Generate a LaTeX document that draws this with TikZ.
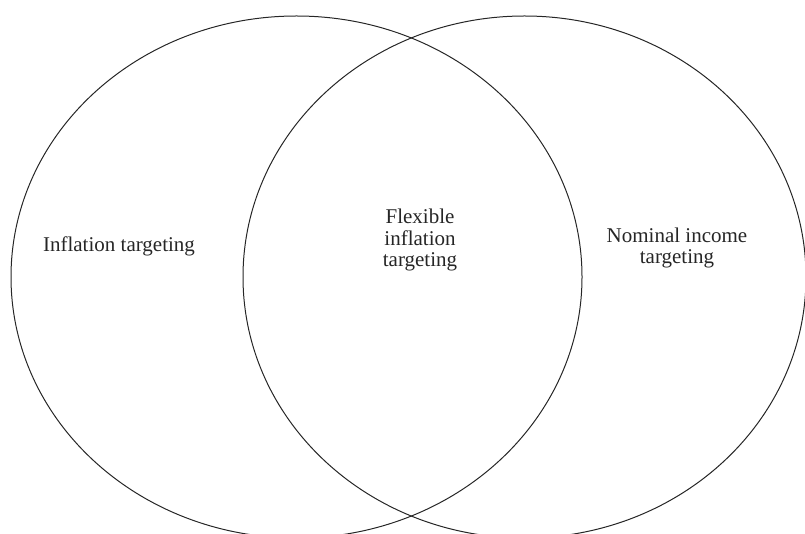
\documentclass[tikz,border=0pt]{standalone}
\usepackage{fontspec}
\setmainfont{Liberation Serif}
\usetikzlibrary{shapes.geometric}
\begin{document}
\begin{tikzpicture}[x=1pt, y=-1pt, line width=1pt,
  set node/.style={ellipse,draw=black!85,inner sep=0pt},
  label node/.style={align=center,font=\fontsize{21}{21.5}\selectfont,text=black!85}]
\useasboundingbox (0,0) rectangle (805,534);
\clip (0,0) rectangle (805,534);
\begin{scope}
\node[set node,minimum width=571pt,minimum height=522pt] (it) at (296.5,277) {};
\node[set node,minimum width=563pt,minimum height=522pt] (ni) at (524.5,277) {};
%\node[set node] () at (,) {};
\end{scope}
\begin{scope}
\node[label node] (itlabel) at (119,246) {Inflation targeting};
\node[label node] (fitlabel) at (420,240) {Flexible\\inflation\\targeting};
\node[label node] (nilabel) at (677,248) {Nominal income\\targeting};
\end{scope}
\end{tikzpicture}
\end{document}
